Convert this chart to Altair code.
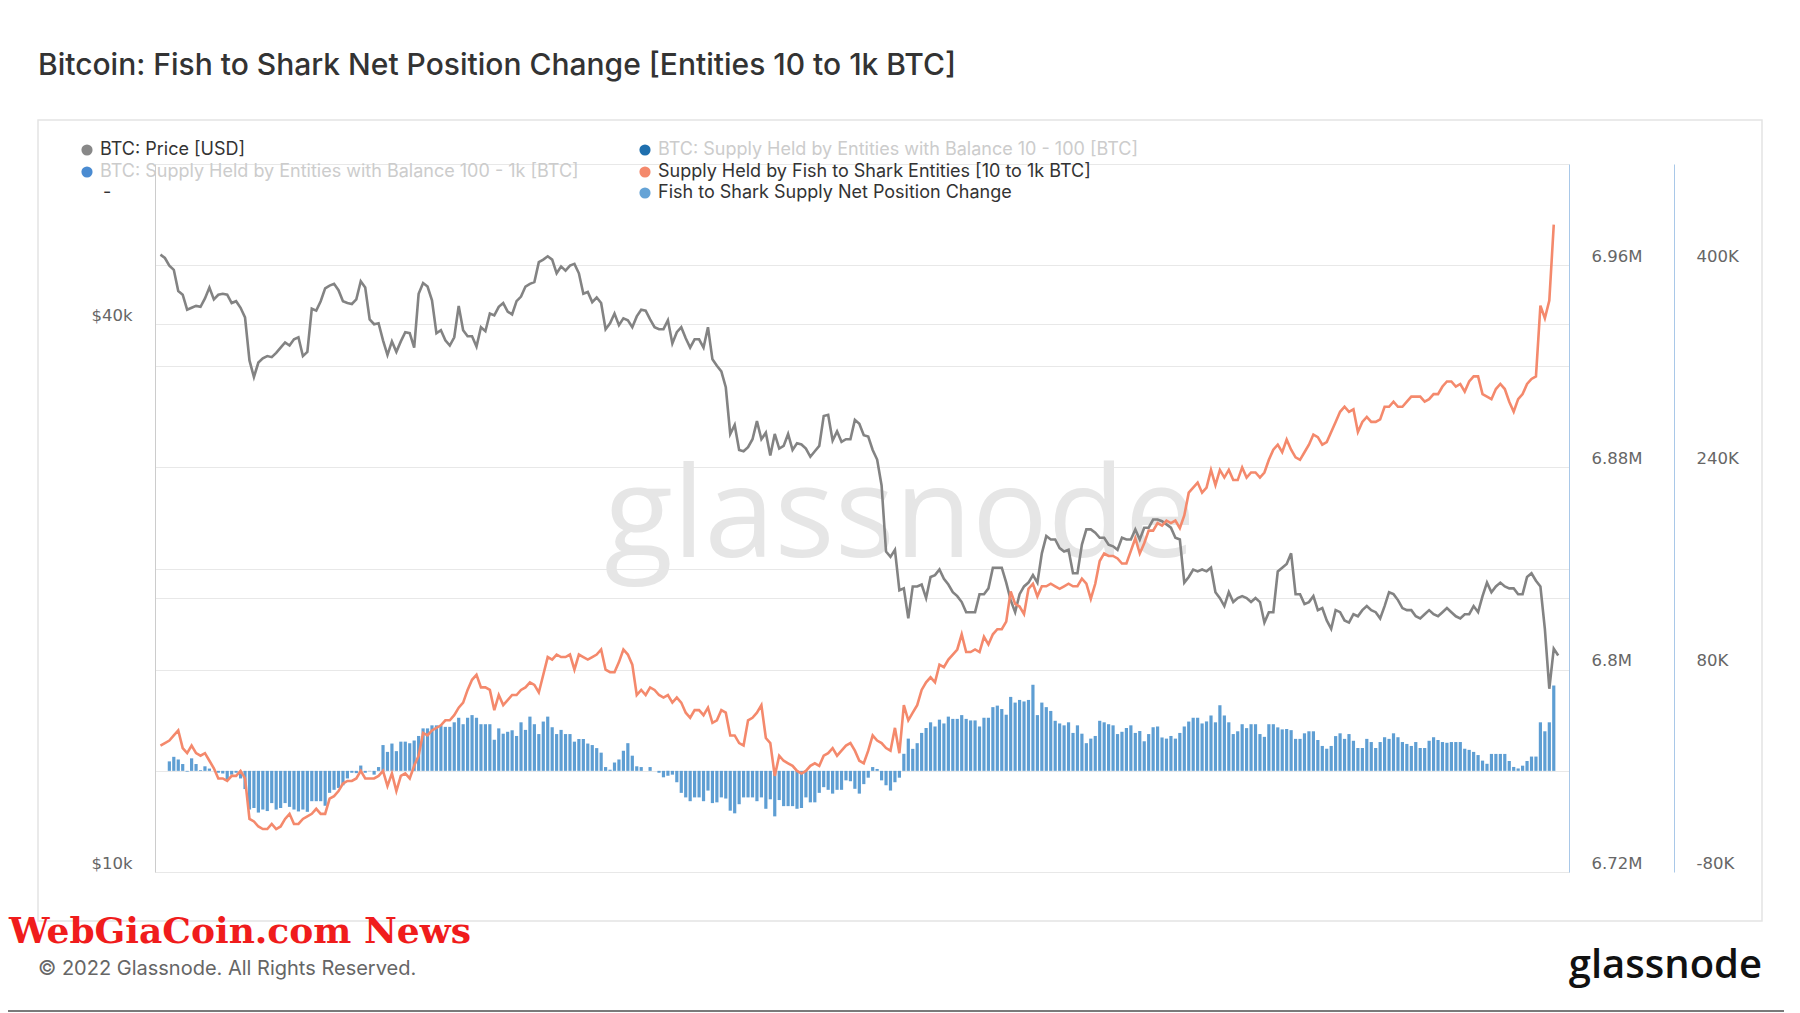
import json
import altair as alt
import pandas as pd

START_DATE = "2022-01-01"

# BTC: Price [USD], daily, thousands of USD, starting 2022-01-01
price_k = [
    # Jan
    47.7, 47.3, 46.4, 45.9, 43.5, 43.1, 41.5, 41.7, 41.9, 41.8,
    42.7, 43.9, 42.6, 43.1, 43.2, 43.1, 42.2, 42.4, 41.7, 40.7,
    36.5, 35.0, 36.3, 36.7, 36.9, 36.8, 37.2, 37.7, 38.2, 37.9, 38.5,
    # Feb
    38.7, 36.9, 37.3, 41.6, 41.4, 42.4, 43.8, 44.1, 44.3, 43.6,
    42.4, 42.2, 42.1, 42.6, 44.6, 43.9, 40.5, 40.0, 40.1, 38.4,
    37.0, 38.3, 37.3, 38.3, 39.2, 39.1, 37.7, 43.2,
    # Mar
    44.4, 44.0, 42.5, 39.1, 39.4, 38.4, 37.9, 38.7, 41.9, 39.4,
    38.8, 38.8, 37.8, 39.7, 39.3, 41.1, 40.9, 41.8, 42.2, 41.3,
    41.0, 42.4, 42.9, 44.0, 44.3, 44.5, 46.8, 47.1, 47.5, 47.1, 45.5,
    # Apr
    46.3, 45.8, 46.4, 46.6, 45.5, 43.2, 43.4, 42.3, 42.8, 42.2,
    39.5, 40.1, 41.1, 39.9, 40.6, 40.4, 39.7, 40.8, 41.5, 41.4,
    40.5, 39.7, 39.5, 39.5, 40.4, 38.1, 39.2, 39.7, 38.6, 37.7,
    # May
    38.5, 38.5, 37.7, 39.7, 36.6, 36.0, 35.5, 34.1, 30.3, 31.0,
    29.1, 29.0, 29.3, 29.9, 31.3, 29.9, 30.4, 28.7, 30.3, 29.2,
    29.4, 30.3, 29.1, 29.6, 29.5, 29.2, 28.6, 29.0, 29.4, 31.7, 31.8,
    # Jun
    29.8, 30.5, 29.7, 29.9, 29.9, 31.4, 31.1, 30.2, 30.1, 29.1,
    28.4, 26.6, 22.5, 22.2, 22.6, 20.4, 20.5, 19.0, 20.6, 20.6,
    20.7, 20.0, 21.1, 21.2, 21.5, 21.0, 20.7, 20.3, 20.1, 19.8,
    # Jul
    19.3, 19.3, 19.3, 20.2, 20.2, 20.5, 21.6, 21.6, 21.6, 20.8,
    19.9, 19.3, 20.2, 20.6, 20.8, 21.2, 20.8, 22.4, 23.4, 23.2,
    23.2, 22.7, 22.5, 22.6, 21.3, 21.3, 22.9, 23.8, 23.8, 23.6, 23.3,
    # Aug
    23.3, 22.9, 22.8, 22.6, 23.3, 23.2, 23.2, 23.8, 23.2, 23.9,
    23.9, 24.4, 24.4, 24.3, 24.1, 23.9, 23.3, 23.2, 20.8, 21.1,
    21.5, 21.4, 21.5, 21.4, 21.6, 20.3, 20.0, 19.6, 20.3, 19.8, 20.0,
    # Sep
    20.1, 20.0, 19.8, 20.0, 19.8, 18.8, 19.3, 19.3, 21.4, 21.6,
    21.8, 22.4, 20.2, 20.2, 19.7, 19.8, 20.1, 19.4, 19.5, 18.9,
    18.5, 19.4, 19.3, 18.9, 18.8, 19.2, 19.1, 19.4, 19.6, 19.4,
    # Oct
    19.3, 19.0, 19.6, 20.3, 20.2, 19.9, 19.5, 19.4, 19.4, 19.1,
    19.0, 19.2, 19.4, 19.2, 19.1, 19.3, 19.5, 19.3, 19.1, 19.0,
    19.2, 19.2, 19.6, 19.3, 20.1, 20.8, 20.3, 20.6, 20.8, 20.6, 20.5,
    # Nov
    20.5, 20.2, 20.2, 21.1, 21.3, 20.9, 20.6, 18.5, 15.9, 17.6, 17.3,
]

# Supply Held by Fish to Shark Entities [10 to 1k BTC], millions BTC, from 2022-01-01
supply_m = [
    6.770, 6.771, 6.772, 6.774, 6.776, 6.769, 6.767, 6.770, 6.767, 6.766,
    6.767, 6.764, 6.761, 6.757, 6.757, 6.756, 6.758, 6.758, 6.760, 6.757,
    6.741, 6.740, 6.738, 6.737, 6.737, 6.739, 6.737, 6.738, 6.741, 6.743,
    6.739, 6.739, 6.741, 6.742, 6.743, 6.745, 6.743, 6.743, 6.749, 6.750,
    6.752, 6.755, 6.756, 6.756, 6.757, 6.760, 6.757, 6.757, 6.757, 6.758,
    6.760, 6.754, 6.759, 6.752, 6.758, 6.759, 6.757, 6.762, 6.766, 6.775,
    6.774, 6.776, 6.777, 6.778, 6.780, 6.780, 6.782, 6.785, 6.787, 6.792,
    6.796, 6.798, 6.793, 6.793, 6.792, 6.784, 6.790, 6.786, 6.788, 6.790,
    6.790, 6.792, 6.793, 6.795, 6.794, 6.791, 6.798, 6.805, 6.804, 6.806,
    6.805, 6.805, 6.806, 6.800, 6.806, 6.805, 6.804, 6.805, 6.806, 6.808,
    6.800, 6.799, 6.799, 6.803, 6.808, 6.806, 6.802, 6.790, 6.792, 6.790,
    6.793, 6.792, 6.790, 6.789, 6.790, 6.787, 6.789, 6.787, 6.783, 6.781,
    6.784, 6.784, 6.782, 6.785, 6.779, 6.780, 6.784, 6.783, 6.774, 6.774,
    6.771, 6.770, 6.780, 6.781, 6.783, 6.786, 6.773, 6.771, 6.758, 6.766,
    6.764, 6.763, 6.762, 6.760, 6.759, 6.760, 6.762, 6.763, 6.762, 6.766,
    6.767, 6.769, 6.766, 6.768, 6.770, 6.771, 6.768, 6.764, 6.763, 6.768,
    6.774, 6.772, 6.771, 6.769, 6.768, 6.777, 6.767, 6.786, 6.780, 6.783,
    6.786, 6.792, 6.795, 6.797, 6.795, 6.802, 6.801, 6.804, 6.806, 6.808,
    6.814, 6.807, 6.807, 6.808, 6.807, 6.813, 6.810, 6.814, 6.816, 6.816,
    6.819, 6.831, 6.826, 6.825, 6.822, 6.832, 6.834, 6.829, 6.833, 6.833,
    6.834, 6.833, 6.832, 6.833, 6.834, 6.833, 6.833, 6.836, 6.834, 6.828,
    6.834, 6.843, 6.846, 6.845, 6.845, 6.844, 6.842, 6.842, 6.847, 6.852,
    6.846, 6.850, 6.855, 6.855, 6.858, 6.857, 6.859, 6.858, 6.859, 6.856,
    6.861, 6.870, 6.872, 6.874, 6.870, 6.872, 6.879, 6.873, 6.879, 6.876,
    6.879, 6.875, 6.875, 6.880, 6.876, 6.878, 6.878, 6.876, 6.878, 6.883,
    6.887, 6.889, 6.886, 6.891, 6.887, 6.884, 6.883, 6.886, 6.889, 6.893,
    6.892, 6.889, 6.890, 6.894, 6.898, 6.902, 6.904, 6.902, 6.903, 6.894,
    6.898, 6.900, 6.898, 6.898, 6.899, 6.904, 6.904, 6.906, 6.904, 6.904,
    6.906, 6.908, 6.908, 6.908, 6.906, 6.907, 6.909, 6.909, 6.912, 6.914,
    6.914, 6.912, 6.913, 6.910, 6.914, 6.916, 6.916, 6.909, 6.908, 6.907,
    6.911, 6.913, 6.911, 6.906, 6.902, 6.907, 6.909, 6.913, 6.915, 6.916,
    6.944, 6.939, 6.946, 6.976,
]

# Fish to Shark Supply Net Position Change, thousands BTC, from 2022-01-03
NET_START_DATE = "2022-01-03"
net_k = [
    7.5, 11.1, 9.0, 5.4, -0.6, 9.9, 5.4, 0.6, 3.6, 1.8,
    0.0, -1.5, -2.1, -7.5, -3.0, -1.5, -6.0, -14.4, -30.6, -29.4,
    -33.0, -30.6, -31.8, -25.5, -30.6, -29.4, -25.5, -28.5, -30.6, -32.1,
    -30.6, -32.4, -24.0, -24.0, -24.0, -27.6, -17.4, -15.0, -13.5, -11.4,
    -6.0, -1.5, -1.8, 4.2, -1.5, -0.3, -3.0, 3.0, 20.4, 15.0,
    21.6, 15.6, 23.1, 23.1, 21.9, 24.0, 27.6, 33.6, 33.6, 36.0,
    36.0, 36.0, 34.8, 34.8, 38.4, 42.0, 36.9, 42.0, 44.1, 42.0,
    36.9, 36.9, 36.9, 24.6, 33.6, 29.4, 30.9,
    32.1, 27.6, 38.4, 32.4, 42.9, 36.9, 29.1, 39.0, 42.9, 34.5,
    29.1, 32.4, 29.1, 29.1, 23.1, 25.2, 25.2, 21.6, 20.4, 18.0,
    14.4, 3.0, 0.9, 6.6, 9.0, 15.9, 21.9, 12.0, 3.6, 3.0,
    0.0, 3.0, 0.0, -1.5, -5.1, -3.9, -3.0, -9.0, -17.4, -21.0,
    -24.0, -21.0, -21.0, -24.0, -15.6, -25.5, -24.9, -21.0, -21.9, -31.5,
    -33.6, -26.4, -21.0, -21.0, -21.0, -24.0, -21.0, -30.0, -22.5, -36.0,
    -23.1, -27.9, -27.9, -27.9, -30.0, -29.4, -21.0, -24.9, -24.9, -17.4,
    -12.9, -15.0, -18.0, -15.0, -15.0, -7.5, -8.2, -14.2,
    -18.0, -10.5, -5.4, 3.0, 1.5, -7.5, -11.4, -15.6, -9.0, -5.4,
    13.5, 25.5, 17.4, 21.9, 30.0, 33.9, 38.4, 35.1, 40.5, 37.5,
    42.9, 41.1, 41.1, 44.1, 41.1, 39.9, 39.9, 35.1, 42.0, 42.0,
    50.4, 51.6, 48.9, 44.4, 58.5, 54.0, 56.1, 54.9, 56.1, 68.1,
    44.1, 54.0, 50.4, 47.4, 39.6, 37.5, 36.0, 38.4, 30.0, 36.0,
    29.4, 21.9, 25.5, 27.6, 39.6, 38.4, 36.9, 36.0, 29.1, 30.9,
    33.9, 36.0, 30.0, 31.5, 23.4, 29.1, 34.5, 35.1, 26.4, 25.5,
    27.6, 25.5, 30.0, 35.1, 39.0, 42.0, 42.0, 37.5,
    39.1, 43.8, 38.4, 51.9, 43.8, 38.4, 29.1, 31.3, 36.9, 33.8,
    36.9, 36.9, 29.1, 26.9, 36.9, 36.9, 34.4, 32.8, 33.1, 32.2,
    25.3, 25.3, 29.7, 31.3, 31.3, 24.4, 19.7, 17.5, 19.7, 27.5,
    29.7, 25.3, 29.1, 23.8, 18.1, 18.1, 25.3, 22.8, 18.1, 22.8,
    26.6, 25.3, 29.7, 26.6, 22.8, 21.3, 19.7, 22.8, 18.1, 18.1,
    23.8, 26.6, 24.4, 22.8, 22.2, 22.8, 22.8, 22.8, 17.5, 16.6,
    15.0, 12.5, 8.1, 5.6, 13.4, 13.4, 13.4, 13.4, 7.8, 3.1,
    1.9, 4.1, 7.8, 11.3, 11.3, 38.4, 31.3, 38.4, 67.5,
]

month_labels = ["Jan '22", "Feb '22", "Mar '22", "Apr '22", "May '22", "Jun '22",
                "Jul '22", "Aug '22", "Sep '22", "Oct '22", "Nov '22"]
month_starts = ["2022-01-01", "2022-02-01", "2022-03-01", "2022-04-01", "2022-05-01",
                "2022-06-01", "2022-07-01", "2022-08-01", "2022-09-01", "2022-10-01",
                "2022-11-01"]

price_ticks = [10000, 20000, 40000]
price_labels = [10000, 40000]
supply_ticks = [6720000, 6760000, 6800000, 6840000, 6880000, 6920000, 6960000, 7000000]
supply_labels = [6720000, 6800000, 6880000, 6960000]
net_labels = [-80000, 80000, 240000, 400000]

legend_items = [
    ("BTC: Price [USD]", "#888888", True),
    ("BTC: Supply Held by Entities with Balance 100 - 1k [BTC]", "#4a8bd1", False),
    ("BTC: Supply Held by Entities with Balance 10 - 100 [BTC]", "#1f6fae", False),
    ("Supply Held by Fish to Shark Entities [10 to 1k BTC]", "#f4896c", True),
    ("Fish to Shark Supply Net Position Change", "#65a3d6", True),
]

# ---------------- build tables ----------------
t0 = pd.Timestamp(START_DATE)


def day_index(dates):
    return [(pd.Timestamp(d) - t0).days for d in dates]


price_dates = pd.date_range(START_DATE, periods=len(price_k))
price_df = pd.DataFrame({"date": price_dates.strftime("%Y-%m-%d"),
                         "day": day_index(price_dates),
                         "price": [v * 1000 for v in price_k]})
supply_dates = pd.date_range(START_DATE, periods=len(supply_m))
supply_df = pd.DataFrame({"date": supply_dates.strftime("%Y-%m-%d"),
                          "day": day_index(supply_dates),
                          "supply": [round(v * 1e6) for v in supply_m]})
net_dates = pd.date_range(NET_START_DATE, periods=len(net_k))
net_df = pd.DataFrame({"date": net_dates.strftime("%Y-%m-%d"),
                       "day": day_index(net_dates),
                       "net": [v * 1000 for v in net_k]})
month_days = day_index(month_starts)

# ---------------- layout (pixels relative to plot origin) ----------------
W, H = 1414, 708
X_END = 315.3

xscale = alt.Scale(domain=[-0.1, X_END], nice=False, zero=False)
x_labels_expr = f"{json.dumps(month_labels)}[indexof({json.dumps(month_days)}, datum.value)]"

x_axis = alt.Axis(values=month_days, labelExpr=x_labels_expr, title=None, grid=False,
                  domainColor="#cfcfcf", domainWidth=1, tickColor="#e3e3e3", tickSize=13,
                  labelPadding=10, labelBaseline="middle", labelFlush=False,
                  labelOverlap=False, labelFont="Inter", labelFontSize=17,
                  labelColor="#555555")

AXIS_LABEL = dict(labelFont="DejaVu Sans", labelFontSize=16.5, labelColor="#666666",
                  labelBaseline="middle", labelOffset=-9, ticks=False, tickSize=0,
                  labelOverlap=False, title=None)

bars = alt.Chart(net_df).mark_bar(width=3.2, color="#5e9ed3").encode(
    x=alt.X("day:Q", scale=xscale, axis=None),
    y=alt.Y("net:Q",
            scale=alt.Scale(domain=[-80000, 480000], nice=False, zero=False),
            axis=alt.Axis(orient="right", offset=105, values=net_labels,
                          labelExpr="datum.value / 1000 + 'K'", grid=False,
                          domainColor="#a9c8e8", labelPadding=22, labelAlign="left",
                          **AXIS_LABEL)),
    y2=alt.datum(0),
)

supply_line = alt.Chart(supply_df).mark_line(color="#f4896c", strokeWidth=2.6).encode(
    x=alt.X("day:Q", scale=xscale, axis=None),
    y=alt.Y("supply:Q",
            scale=alt.Scale(domain=[6720000, 7000000], nice=False, zero=False),
            axis=alt.Axis(orient="right", values=supply_ticks,
                          labelExpr=("indexof(" + json.dumps(supply_labels) +
                                     ", datum.value) >= 0 ? format(datum.value / 1e6, '.2~f') + 'M' : ''"),
                          grid=True, gridColor="#e8e8e8", gridWidth=1,
                          domainColor="#a9c8e8", labelPadding=22, labelAlign="left",
                          **AXIS_LABEL)),
)

price_line = alt.Chart(price_df).mark_line(color="#838383", strokeWidth=2.6).encode(
    x=alt.X("day:Q", scale=xscale, axis=x_axis),
    y=alt.Y("price:Q",
            scale=alt.Scale(type="log", domain=[10000, 60000], nice=False),
            axis=alt.Axis(orient="left", values=price_ticks,
                          labelExpr=("indexof(" + json.dumps(price_labels) +
                                     ", datum.value) >= 0 ? '$' + datum.value / 1000 + 'k' : ''"),
                          grid=True, gridColor="#e8e8e8", gridWidth=1,
                          domainColor="#cccccc", labelPadding=23, labelAlign="right",
                          **AXIS_LABEL)),
)


def one():
    return alt.Data(values=[{}])


def text(t, x, y, size, color, font="Inter", weight="normal", align="left",
         baseline="alphabetic"):
    return alt.Chart(one()).mark_text(
        text=t, align=align, baseline=baseline, font=font, fontSize=size,
        fontWeight=weight, color=color,
    ).encode(x=alt.value(x), y=alt.value(y))


frame = alt.Chart(one()).mark_rect(fillOpacity=0, stroke="#e4e4e4", strokeWidth=1.5).encode(
    x=alt.value(-117), x2=alt.value(1607), y=alt.value(-44), y2=alt.value(757))
bottom_rule = alt.Chart(one()).mark_rule(color="#7a7a7a", strokeWidth=2).encode(
    x=alt.value(-155), x2=alt.value(1629), y=alt.value(847))

watermark = text("glassnode", 745, 393, 126, "#e6e6e6", font="Open Sans",
                 align="center")

title = text("Bitcoin: Fish to Shark Net Position Change [Entities 10 to 1k BTC]",
             -117, -89, 30, "#333333", weight=500)

legend_pos = [(-68, -14), (-68, 8), (490, -14), (490, 8), (490, 29)]
legend_layers = []
for (label, col, active), (lx, ly) in zip(legend_items, legend_pos):
    legend_layers.append(
        alt.Chart(one()).mark_circle(size=125, color=col, opacity=1).encode(
            x=alt.value(lx), y=alt.value(ly)))
    legend_layers.append(
        text(label, lx + 13, ly, 18, "#333333" if active else "#cccccc",
             baseline="middle"))
legend_layers.append(text("-", -52, 29, 18, "#333333", baseline="middle"))

footer = text("\u00a9 2022 Glassnode. All Rights Reserved.", -117, 811, 20, "#666666")
logo = text("glassnode", 1607, 814, 40, "#111111", font="Open Sans", weight=600,
            align="right")
stamp = text("WebGiaCoin.com News", -146, 779, 36, "#f01c1c",
             font="DejaVu Serif", weight="bold")

chart = alt.layer(
    frame, bottom_rule, watermark, bars, price_line, supply_line,
    title, *legend_layers, footer, logo, stamp,
).resolve_scale(y="independent").properties(
    width=W, height=H,
    autosize=alt.AutoSizeParams(type="none"),
    padding={"left": 147, "top": 156, "right": 223, "bottom": 141},
    background="white",
).configure_view(strokeWidth=0)

chart.save("out.html", embed_options={"renderer": "svg", "actions": False})
